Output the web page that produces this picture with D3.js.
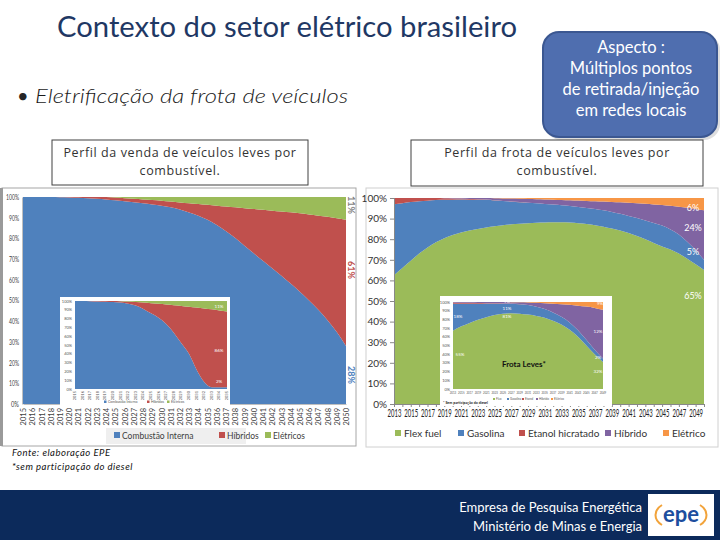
<!DOCTYPE html>
<html><head><meta charset="utf-8">
<script src="https://cdn.jsdelivr.net/npm/d3@7"></script>
<style>body{margin:0;background:#fff}svg{display:block}</style>
</head><body>
<script>
// ---------------- DATA ----------------
const pctTicks = [0,10,20,30,40,50,60,70,80,90,100];

// Left: Perfil da venda de veículos leves por combustível
const salesYears = [2015,2016,2017,2018,2019,2020,2021,2022,2023,2024,2025,2026,2027,2028,2029,2030,2031,2032,2033,2034,2035,2036,2037,2038,2039,2040,2041,2042,2043,2044,2045,2046,2047,2048,2049,2050];
const salesCombustao = [100,100,100,100,99.9,99.8,99.6,99.4,99.1,98.8,98.4,98,97.5,97,96.4,95.8,95,94,92.5,91,89,86.5,83.5,80.2,76.5,72.8,69.2,65.6,62,58.2,54.2,50,45.5,40.5,34.8,28];
const salesHibridos = [0,0,0,0,0.1,0.2,0.4,0.6,0.9,1.2,1.3,1.4,1.6,1.8,2.1,2.4,2.8,3.4,4.5,5.6,7.2,9.3,11.9,14.8,18.1,21.4,24.6,27.8,31,34.4,38,41.6,45.5,49.9,54.9,61];
const salesEletricos = [0,0,0,0,0,0,0,0,0,0,0.3,0.6,0.9,1.2,1.5,1.8,2.2,2.6,3,3.4,3.8,4.2,4.6,5,5.4,5.8,6.2,6.6,7,7.4,7.8,8.4,9,9.6,10.3,11];
const salesSeries = ["Combustão Interna","Híbridos","Elétricos"];
const salesEndLabels = ["11%","61%","28%"];

// Left inset (earlier study)
const insetSalesYears = [2015,2016,2017,2018,2019,2020,2021,2022,2023,2024,2025,2026,2027,2028,2029,2030,2031,2032,2033,2034,2035];
const insetSalesCombustao = [100,100,99.8,99.5,99.2,98.8,98.2,97,95,91,86,81,74,64,52,40,22,8,2,2,2];
const insetSalesHibridos = [0,0,0.2,0.5,0.8,1.2,1.5,2.3,3.8,7.2,11.5,15.8,22,31.2,42.4,53.5,70.6,83.6,88.5,87.3,86];
const insetSalesEletricos = [0,0,0,0,0,0,0.3,0.7,1.2,1.8,2.5,3.2,4,4.8,5.6,6.5,7.4,8.4,9.5,10.7,12];
const insetSalesLabels = ["11%","86%","2%"];

// Right: Perfil da frota de veículos leves por combustível
const fleetYears = [2013,2014,2015,2016,2017,2018,2019,2020,2021,2022,2023,2024,2025,2026,2027,2028,2029,2030,2031,2032,2033,2034,2035,2036,2037,2038,2039,2040,2041,2042,2043,2044,2045,2046,2047,2048,2049,2050];
const fleetTickYears = [2013,2015,2017,2019,2021,2023,2025,2027,2029,2031,2033,2035,2037,2039,2041,2043,2045,2047,2049];
const fleetFlex = [62.5,66,69.5,73,76,78.5,80.5,82,83.2,84.2,85,85.7,86.3,86.8,87.2,87.5,87.8,88,88.1,88.2,88.2,88.1,87.8,87.4,86.8,86.1,85.2,84.2,83,81.6,80,78.2,76.5,75,73,70.5,67.8,65];
const fleetGasolina = [34.5,31.5,28.5,25.4,22.7,20.5,18.6,17.2,16.1,15,14.2,13.4,12.5,11.7,11,10.45,9.85,9.4,9,8.6,8.25,8,7.85,7.8,7.85,7.9,8,8.1,8.3,8.7,9.1,9.7,10.1,9.7,9.3,8.3,6.9,5];
const fleetEtanol = [3,2.5,2,1.6,1.3,1,0.8,0.6,0.45,0.3,0.2,0.15,0.1,0.1,0.1,0.05,0.05,0,0,0,0,0,0,0,0,0,0,0,0,0,0,0,0,0,0,0,0,0];
const fleetHibrido = [0,0,0,0,0,0,0.1,0.2,0.3,0.45,0.6,0.8,1,1.2,1.4,1.6,1.8,2,2.2,2.4,2.6,2.8,3.1,3.4,3.8,4.3,4.9,5.6,6.4,7.2,8.1,9,10,11.5,13.5,16.5,20,24];
const fleetEletrico = [0,0,0,0,0,0,0,0,0,0,0,0,0.1,0.2,0.3,0.4,0.5,0.6,0.7,0.8,0.95,1.1,1.25,1.4,1.55,1.7,1.9,2.1,2.3,2.5,2.8,3.1,3.4,3.8,4.2,4.7,5.3,6];
const fleetSeries = ["Flex fuel","Gasolina","Etanol hicratado","Híbrido","Elétrico"];
const fleetEndLabels = ["6%","24%","5%","65%"];

// Right inset (earlier study)
const insetFleetYears = [2013,2015,2017,2019,2021,2023,2025,2027,2029,2031,2033,2035,2037,2039,2041,2043,2045,2047,2049];
const insetFleetFlex = [67,72,76,79.5,82.5,85,86.5,87,86.5,85.5,84,82,78.5,74,68,60,50,40,31];
const insetFleetGasolina = [31,26,22,18.5,15.5,13,11.5,11,11,11,10.5,10,9.5,9,8.5,7.5,6.5,5,4];
const insetFleetEtanol = [1.5,1.2,1,0.8,0.6,0.5,0.3,0.2,0.1,0,0,0,0,0,0,0,0,0,0];
const insetFleetHibrido = [0.5,0.8,1,1.2,1.4,1.5,1.7,1.6,2,2.8,4.5,6.6,10.1,14.5,20.3,28.3,38.2,48.2,56];
const insetFleetEletrico = [0,0,0,0,0,0,0,0.2,0.4,0.7,1,1.4,1.9,2.5,3.2,4.2,5.3,6.8,9];
const insetFleetLabels = ["9%","11%","81%","18%","55%","9%","12%","2%","32%"];

const salesColors = ["#4F81BD","#C0504D","#9BBB59"];
const fleetColors = ["#9BBB59","#4F81BD","#C0504D","#8064A2","#F79646"];

// ---------------- HELPERS ----------------
const svg = d3.select("body").append("svg").attr("width",720).attr("height",540)
  .style("font-family","Lato, 'Open Sans', sans-serif");

function stackArea(g, years, series, colors, x, y){
  const keys = series.map((s,k)=>"s"+k);
  const rows = years.map((yr,i)=>{const r={year:yr}; series.forEach((s,k)=>r["s"+k]=s[i]); return r;});
  const st = d3.stack().keys(keys)(rows);
  const area = d3.area().x(d=>x(d.data.year)).y0(d=>y(d[0])).y1(d=>y(d[1])).curve(d3.curveMonotoneX);
  g.selectAll(null).data(st).join("path").attr("d",area).attr("fill",(d,i)=>colors[i]);
}

// ---------------- TITLE AREA ----------------
svg.append("text").attr("x",287).attr("y",37).attr("text-anchor","middle")
  .attr("font-size",28).attr("fill","#1F3864").attr("textLength",460).attr("lengthAdjust","spacingAndGlyphs")
  .text("Contexto do setor elétrico brasileiro");
svg.append("text").attr("x",17).attr("y",103).attr("font-size",20).attr("fill","#262626").text("•");
svg.append("text").attr("x",35).attr("y",103).attr("font-size",20).attr("font-style","italic").attr("font-weight",300).attr("fill","#1a1a1a")
  .attr("textLength",313).attr("lengthAdjust","spacingAndGlyphs").text("Eletrificação da frota de veículos");

// Aspect box
svg.append("rect").attr("x",545).attr("y",34).attr("width",175).attr("height",106).attr("rx",16)
  .attr("fill","#C8C8C8").attr("opacity",0.6);
svg.append("rect").attr("x",543).attr("y",32).attr("width",174).attr("height",105).attr("rx",16)
  .attr("fill","#4F6EAF").attr("stroke","#3B5791").attr("stroke-width",2);
["Aspecto :","Múltiplos pontos","de retirada/injeção","em redes locais"].forEach((t,i)=>{
  svg.append("text").attr("x",631).attr("y",52.5+i*21).attr("text-anchor","middle")
    .attr("font-size",16.5).attr("fill","#FFFFFF").text(t);
});

// Caption boxes
function caption(x,y,w,h,lines){
  svg.append("rect").attr("x",x).attr("y",y).attr("width",w).attr("height",h).attr("fill","#fff").attr("stroke","#404040").attr("stroke-width",1);
  lines.forEach((t,i)=>svg.append("text").attr("x",x+w/2).attr("y",y+17+i*18).attr("text-anchor","middle")
    .attr("font-size",12.5).attr("letter-spacing",0.6).attr("fill","#333").attr("font-family","'Open Sans', sans-serif").text(t));
}
caption(52,140,256,45,["Perfil da venda de veículos leves por","combustível."]);
caption(411,140,292,46,["Perfil da frota de veículos leves por","combustível."]);

// ---------------- LEFT MAIN CHART ----------------
const L = svg.append("g");
L.append("rect").attr("x",2).attr("y",188).attr("width",354).attr("height",258).attr("fill","#fff").attr("stroke","#A6A6A6");
L.append("rect").attr("x",0).attr("y",188).attr("width",3).attr("height",258).attr("fill","#9A9A9A");
const lx = d3.scaleLinear().domain([2015,2050]).range([23,346]);
const ly = d3.scaleLinear().domain([0,100]).range([404,197]).clamp(true);
stackArea(L.append("g"), salesYears, [salesCombustao,salesHibridos,salesEletricos], salesColors, lx, ly);
const lyAxis = L.append("g").attr("transform","translate(22,0)")
  .call(d3.axisLeft(ly).tickValues(pctTicks).tickFormat(d=>d+"%").tickSize(0).tickPadding(3));
lyAxis.select(".domain").attr("stroke","#BFBFBF");
lyAxis.selectAll("text").attr("font-size",7.5).attr("fill","#404040").attr("font-family","Lato, sans-serif")
  .attr("textLength",d=>d===100?13:(d===0?8:10)).attr("lengthAdjust","spacingAndGlyphs");
const lxAxis = L.append("g").attr("transform","translate(0,404)")
  .call(d3.axisBottom(lx).tickValues(salesYears).tickFormat(d=>String(d)).tickSize(0));
lxAxis.select(".domain").attr("stroke","#BFBFBF");
lxAxis.selectAll("text").attr("font-size",7.5).attr("fill","#404040").attr("font-family","Lato, sans-serif")
  .attr("transform","rotate(-90)").attr("text-anchor","end").attr("dy","0.35em").attr("x",-4).attr("y",0);
// end labels
const salesEndY = [205,270,375], salesEndColor = ["#7F7F7F","#C0504D","#4F81BD"];
salesEndLabels.forEach((t,i)=>L.append("text").attr("transform",`translate(348,${salesEndY[i]}) rotate(90)`)
  .attr("text-anchor","middle").attr("font-size",9).attr("font-weight","bold").attr("fill",salesEndColor[i]).text(t));
// legend
L.append("rect").attr("x",106).attr("y",428).attr("width",140).attr("height",16).attr("fill","#EFEFEF");
const salesLegX = [114,219,265];
salesSeries.forEach((s,i)=>{
  L.append("rect").attr("x",salesLegX[i]).attr("y",432).attr("width",6).attr("height",6).attr("fill",salesColors[i]);
  L.append("text").attr("x",salesLegX[i]+8).attr("y",438.5).attr("font-size",8.5).attr("fill","#404040").text(s);
});

// Left inset
const LI = svg.append("g");
LI.append("rect").attr("x",60).attr("y",297).attr("width",170).attr("height",110).attr("fill","#fff");
const lix = d3.scaleLinear().domain([2015,2035]).range([75,227]);
const liy = d3.scaleLinear().domain([0,100]).range([389,301]).clamp(true);
stackArea(LI.append("g"), insetSalesYears, [insetSalesCombustao,insetSalesHibridos,insetSalesEletricos], salesColors, lix, liy);
pctTicks.forEach(t=>LI.append("text").attr("x",72).attr("y",liy(t)+1.5).attr("text-anchor","end").attr("font-size",4).attr("fill","#555").text(t+"%"));
insetSalesYears.forEach(yr=>LI.append("text").attr("transform",`translate(${lix(yr)+1},391) rotate(-90)`).attr("text-anchor","end")
  .attr("font-size",4).attr("fill","#555").text(yr));
const insetSalesLabY = [308,352,383];
insetSalesLabels.forEach((t,i)=>LI.append("text").attr("x",219).attr("y",insetSalesLabY[i]).attr("text-anchor","middle").attr("font-size",4.5).attr("fill","#fff").text(t));
[[104,"Combustão Interna"],[147,"Híbridos"],[167,"Elétricos"]].forEach((d,i)=>{
  LI.append("rect").attr("x",d[0]).attr("y",400.5).attr("width",2.5).attr("height",2.5).attr("fill",salesColors[i]);
  LI.append("text").attr("x",d[0]+4).attr("y",403).attr("font-size",3.5).attr("fill","#555").text(d[1]);
});

// ---------------- RIGHT MAIN CHART ----------------
const R = svg.append("g");
R.append("rect").attr("x",366).attr("y",188).attr("width",352).attr("height",259).attr("fill","#fff").attr("stroke","#D0D0D0");
const rx = d3.scaleLinear().domain([2013,2050]).range([394,704]);
const ry = d3.scaleLinear().domain([0,100]).range([404,198]).clamp(true);
stackArea(R.append("g"), fleetYears, [fleetFlex,fleetGasolina,fleetEtanol,fleetHibrido,fleetEletrico], fleetColors, rx, ry);
const ryAxis = R.append("g").attr("transform","translate(394,0)")
  .call(d3.axisLeft(ry).tickValues(pctTicks).tickFormat(d=>d+"%").tickSize(4).tickPadding(3));
ryAxis.select(".domain").attr("stroke","#888");
ryAxis.selectAll("line").attr("stroke","#888");
ryAxis.selectAll("text").attr("font-size",10).attr("fill","#333").attr("font-family","Lato, sans-serif");
const rxAxis = R.append("g").attr("transform","translate(0,404)")
  .call(d3.axisBottom(rx).tickValues(fleetYears).tickFormat(d=>fleetTickYears.includes(d)?String(d):"").tickSize(3).tickPadding(3));
rxAxis.select(".domain").attr("stroke","#888");
rxAxis.selectAll("line").attr("stroke","#888");
rxAxis.selectAll("text").filter(function(){return this.textContent==="";}).remove();
rxAxis.selectAll("text")
  .attr("font-size",10.5).attr("fill","#222").attr("font-family","Lato, sans-serif")
  .attr("transform","scale(0.57,1)");
const fleetEndY = [211,231,255,299];
fleetEndLabels.forEach((t,i)=>R.append("text").attr("x",693).attr("y",fleetEndY[i]).attr("text-anchor","middle")
  .attr("font-size",9).attr("fill","#fff").text(t));
const fleetLegX = [395,458,519,605,663];
fleetSeries.forEach((s,i)=>{
  R.append("rect").attr("x",fleetLegX[i]).attr("y",430).attr("width",6).attr("height",6).attr("fill",fleetColors[i]);
  R.append("text").attr("x",fleetLegX[i]+9).attr("y",437).attr("font-size",10).attr("fill","#333").text(s);
});

// Right inset
const RI = svg.append("g");
RI.append("rect").attr("x",440).attr("y",296).attr("width",172).attr("height",110).attr("fill","#fff");
const rix = d3.scaleLinear().domain([2013,2049]).range([453,603]);
const riy = d3.scaleLinear().domain([0,100]).range([389,302]).clamp(true);
stackArea(RI.append("g"), insetFleetYears, [insetFleetFlex,insetFleetGasolina,insetFleetEtanol,insetFleetHibrido,insetFleetEletrico], fleetColors, rix, riy);
pctTicks.forEach(t=>RI.append("text").attr("x",450).attr("y",riy(t)+1.5).attr("text-anchor","end").attr("font-size",4).attr("fill","#555").text(t+"%"));
insetFleetYears.forEach(yr=>RI.append("text").attr("x",rix(yr)).attr("y",394).attr("text-anchor","middle")
  .attr("font-size",2.8).attr("fill","#555").text(yr));
const insetFleetLabPos = [[507,303],[507,310],[507,318],[458,318],[460,356],[600,305],[598,333],[598,359],[598,373]];
insetFleetLabels.forEach((t,i)=>RI.append("text").attr("x",insetFleetLabPos[i][0]).attr("y",insetFleetLabPos[i][1]).attr("text-anchor","middle")
  .attr("font-size",4.5).attr("fill","#fff").text(t));
RI.append("text").attr("x",524).attr("y",367).attr("text-anchor","middle").attr("font-size",8).attr("font-weight","bold").attr("fill","#111").text("Frota Leves*");
const insetLegX = [493,507,522,536,551];
fleetSeries.forEach((s,i)=>{
  RI.append("rect").attr("x",insetLegX[i]).attr("y",398).attr("width",2).attr("height",2).attr("fill",fleetColors[i]);
  RI.append("text").attr("x",insetLegX[i]+3).attr("y",400).attr("font-size",3).attr("fill","#555").text(s.split(" ")[0]);
});
RI.append("text").attr("x",443).attr("y",404).attr("font-size",3.6).attr("font-weight","bold").attr("fill","#222").text("* Sem participação do diesel");

// ---------------- FOOTNOTE & FOOTER ----------------
svg.append("text").attr("x",12).attr("y",456).attr("font-size",9.5).attr("font-style","italic").attr("letter-spacing",0.5).attr("fill","#111").text("Fonte: elaboração EPE");
svg.append("text").attr("x",12).attr("y",470).attr("font-size",9.5).attr("font-style","italic").attr("letter-spacing",0.5).attr("fill","#111").text("*sem participação do diesel");

svg.append("rect").attr("x",0).attr("y",490).attr("width",720).attr("height",50).attr("fill","#0C2A5B");
svg.append("text").attr("x",642).attr("y",512).attr("text-anchor","end").attr("font-size",13).attr("fill","#fff").text("Empresa de Pesquisa Energética");
svg.append("text").attr("x",642).attr("y",531).attr("text-anchor","end").attr("font-size",13).attr("fill","#fff").text("Ministério de Minas e Energia");
svg.append("rect").attr("x",648).attr("y",494).attr("width",66).attr("height",42).attr("fill","#fff");
svg.append("path").attr("d","M662,525 A18,13 0 0 1 662,505").attr("fill","none").attr("stroke","#F2A33A").attr("stroke-width",2);
svg.append("path").attr("d","M700,505 A18,13 0 0 1 700,525").attr("fill","none").attr("stroke","#F2A33A").attr("stroke-width",2);
svg.append("text").attr("x",681).attr("y",522).attr("text-anchor","middle").attr("font-size",22).attr("font-weight","bold").attr("fill","#1D4E9E").text("epe");
</script>
</body></html>
